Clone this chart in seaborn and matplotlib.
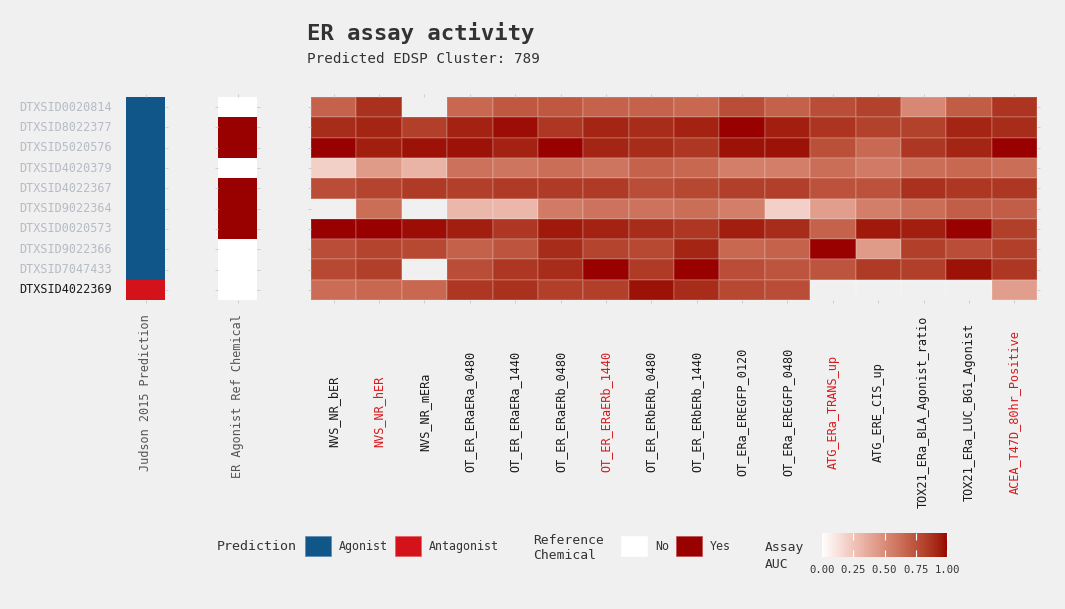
import numpy as np
import pandas as pd
import matplotlib
matplotlib.use("Agg")
import matplotlib.pyplot as plt
import seaborn as sns
from matplotlib.colors import ListedColormap
from matplotlib.patches import Patch

# ---------------- data ----------------
chemicals = ["DTXSID0020814", "DTXSID8022377", "DTXSID5020576", "DTXSID4020379",
             "DTXSID4022367", "DTXSID9022364", "DTXSID0020573", "DTXSID9022366",
             "DTXSID7047433", "DTXSID4022369"]
highlight_chemical = "DTXSID4022369"

assays = ["NVS_NR_bER", "NVS_NR_hER", "NVS_NR_mERa", "OT_ER_ERaERa_0480",
          "OT_ER_ERaERa_1440", "OT_ER_ERaERb_0480", "OT_ER_ERaERb_1440",
          "OT_ER_ERbERb_0480", "OT_ER_ERbERb_1440", "OT_ERa_EREGFP_0120",
          "OT_ERa_EREGFP_0480", "ATG_ERa_TRANS_up", "ATG_ERE_CIS_up",
          "TOX21_ERa_BLA_Agonist_ratio", "TOX21_ERa_LUC_BG1_Agonist",
          "ACEA_T47D_80hr_Positive"]
red_assays = ["NVS_NR_hER", "OT_ER_ERaERb_1440", "ATG_ERa_TRANS_up",
              "ACEA_T47D_80hr_Positive"]

prediction = ["Agonist"] * 9 + ["Antagonist"]
ref_chemical = ["No", "Yes", "Yes", "No", "Yes", "Yes", "Yes", "No", "No", "No"]

nan = np.nan
auc_0020814 = [0.68, 0.88, nan, 0.66, 0.73, 0.73, 0.68, 0.68, 0.66, 0.77, 0.69, 0.77, 0.82, 0.52, 0.71, 0.87]
auc_8022377 = [0.90, 0.92, 0.83, 0.93, 0.98, 0.86, 0.92, 0.90, 0.93, 1.00, 0.94, 0.87, 0.82, 0.82, 0.92, 0.90]
auc_5020576 = [1.00, 0.94, 0.97, 0.97, 0.93, 1.00, 0.92, 0.90, 0.86, 0.97, 0.97, 0.76, 0.65, 0.86, 0.92, 1.00]
auc_4020379 = [0.20, 0.44, 0.33, 0.62, 0.60, 0.63, 0.60, 0.68, 0.66, 0.56, 0.56, 0.63, 0.58, 0.63, 0.66, 0.63]
auc_4022367 = [0.77, 0.81, 0.85, 0.83, 0.85, 0.85, 0.85, 0.77, 0.80, 0.83, 0.83, 0.75, 0.75, 0.88, 0.86, 0.86]
auc_9022364 = [nan, 0.63, nan, 0.31, 0.31, 0.58, 0.61, 0.61, 0.63, 0.56, 0.20, 0.42, 0.56, 0.63, 0.70, 0.70]
auc_0020573 = [1.00, 1.00, 0.98, 0.94, 0.86, 0.95, 0.93, 0.90, 0.86, 0.94, 0.90, 0.68, 0.95, 0.94, 1.00, 0.83]
auc_9022366 = [0.77, 0.81, 0.79, 0.69, 0.74, 0.90, 0.81, 0.79, 0.92, 0.66, 0.68, 1.00, 0.44, 0.83, 0.77, 0.83]
auc_7047433 = [0.79, 0.83, nan, 0.77, 0.86, 0.90, 1.00, 0.85, 1.00, 0.77, 0.74, 0.74, 0.85, 0.83, 0.97, 0.86]
auc_4022369 = [0.64, 0.66, 0.66, 0.86, 0.88, 0.83, 0.83, 0.97, 0.90, 0.79, 0.77, nan, nan, nan, nan, 0.42]

auc_rows = [auc_0020814, auc_8022377, auc_5020576, auc_4020379, auc_4022367,
            auc_9022364, auc_0020573, auc_9022366, auc_7047433, auc_4022369]

# ---------------- colours ----------------
BG = "#F0F0F0"
BLUE = "#115689"
RED = "#D3121A"
DARKRED = "#990000"


def _srgb_to_lab(rgb):
    rgb = np.asarray(rgb, float)
    lin = np.where(rgb <= 0.04045, rgb / 12.92, ((rgb + 0.055) / 1.055) ** 2.4)
    M = np.array([[0.4124, 0.3576, 0.1805], [0.2126, 0.7152, 0.0722], [0.0193, 0.1192, 0.9505]])
    xyz = M @ lin / np.array([0.95047, 1.0, 1.08883])
    f = np.where(xyz > 0.008856, np.cbrt(xyz), 7.787 * xyz + 16 / 116)
    return np.array([116 * f[1] - 16, 500 * (f[0] - f[1]), 200 * (f[1] - f[2])])


def _lab_to_srgb(lab):
    L, a, b = lab
    fy = (L + 16) / 116
    fx = fy + a / 500
    fz = fy - b / 200
    f = np.array([fx, fy, fz])
    xyz = np.where(f ** 3 > 0.008856, f ** 3, (f - 16 / 116) / 7.787) * np.array([0.95047, 1.0, 1.08883])
    Minv = np.array([[3.2406, -1.5372, -0.4986], [-0.9689, 1.8758, 0.0415], [0.0557, -0.2040, 1.0570]])
    lin = Minv @ xyz
    lin = np.clip(lin, 0, 1)
    rgb = np.where(lin <= 0.0031308, 12.92 * lin, 1.055 * lin ** (1 / 2.4) - 0.055)
    return np.clip(rgb, 0, 1)


lab_lo = _srgb_to_lab(matplotlib.colors.to_rgb("white"))
lab_hi = _srgb_to_lab(matplotlib.colors.to_rgb(DARKRED))
auc_cmap = ListedColormap([_lab_to_srgb(lab_lo + t * (lab_hi - lab_lo)) for t in np.linspace(0, 1, 256)])

# ---------------- figure ----------------
plt.rcParams["font.family"] = ["DejaVu Sans Mono"]
W, H = 1065, 609
fig = plt.figure(figsize=(W / 100, H / 100), dpi=100, facecolor=BG)


def px_axes(x0, y0, x1, y1):
    return fig.add_axes([x0 / W, 1 - y1 / H, (x1 - x0) / W, (y1 - y0) / H])


ax_pred = px_axes(126, 97, 165, 300)
ax_ref = px_axes(218, 97, 257, 300)
ax_heat = px_axes(311, 97, 1037, 300)
cax = px_axes(822, 533, 947, 557)

for a in (ax_pred, ax_ref, ax_heat):
    a.set_facecolor(BG)

pred_df = pd.DataFrame({"Judson 2015 Prediction": [0 if p == "Agonist" else 1 for p in prediction]},
                       index=chemicals)
ref_df = pd.DataFrame({"ER Agonist Ref Chemical": [1 if r == "Yes" else 0 for r in ref_chemical]},
                      index=chemicals)
auc_df = pd.DataFrame(auc_rows, index=chemicals, columns=assays)

sns.heatmap(pred_df, ax=ax_pred, cmap=ListedColormap([BLUE, RED]), vmin=0, vmax=1, cbar=False,
            linewidths=0.0)
sns.heatmap(ref_df, ax=ax_ref, cmap=ListedColormap(["white", DARKRED]), vmin=0, vmax=1, cbar=False,
            linewidths=0.0)
sns.heatmap(auc_df, ax=ax_heat, cmap=auc_cmap, vmin=0, vmax=1, cbar=True, cbar_ax=cax,
            cbar_kws={"orientation": "horizontal"}, linewidths=0.3, linecolor=(1, 1, 1, 0.12))

TICKC = "#C8C8C8"
for a in (ax_pred, ax_ref, ax_heat):
    a.tick_params(axis="both", which="both", length=2.5, width=0.6, color=TICKC,
                  left=True, right=True, top=True, bottom=True)
    a.set_xlabel("")
    a.set_ylabel("")
    for s in a.spines.values():
        s.set_visible(False)

# y labels only on the prediction panel
ax_pred.set_yticks(np.arange(len(chemicals)) + 0.5)
ax_pred.set_yticklabels(chemicals, rotation=0, fontsize=8.5)
for lab in ax_pred.get_yticklabels():
    lab.set_color("#1A1A1A" if lab.get_text() == highlight_chemical else "#B6BBC4")
ax_pred.tick_params(axis="y", pad=8, left=False)
ax_ref.set_yticklabels([])
ax_heat.set_yticklabels([])

for a in (ax_pred, ax_ref):
    a.set_xticklabels(a.get_xticklabels(), rotation=90, fontsize=8.6, color="#555555")
    a.tick_params(axis="x", pad=8)

ax_heat.set_xticks(np.arange(len(assays)) + 0.5)
ax_heat.set_xticklabels(assays, rotation=90, fontsize=8.6)
for lab in ax_heat.get_xticklabels():
    lab.set_va("center")
    lab.set_color("#D7191C" if lab.get_text() in red_assays else "#1A1A1A")
ax_heat.tick_params(axis="x", pad=78)

# colourbar styling
cbar = ax_heat.collections[0].colorbar
cbar.outline.set_visible(False)
cbar.set_ticks([0, 0.25, 0.5, 0.75, 1.0])
cbar.set_ticklabels(["0.00", "0.25", "0.50", "0.75", "1.00"])
cax.tick_params(axis="x", direction="in", length=5, width=0.8, color="white",
                labelsize=7.6, labelcolor="#333333", pad=6, top=True)

# titles
fig.text(307 / W, 1 - 22 / H, "ER assay activity", fontsize=16, fontweight="bold",
         color="#333333", va="top", ha="left")
fig.text(307 / W, 1 - 52 / H, "Predicted EDSP Cluster: 789", fontsize=10.3,
         color="#333333", va="top", ha="left")

# legends
fig.text(217 / W, 1 - 546 / H, "Prediction", fontsize=9.6, color="#333333", va="center", ha="left")
fig.legend(handles=[Patch(facecolor=BLUE, edgecolor="#5A8CB0", linewidth=0.5, label="Agonist"),
                    Patch(facecolor=RED, edgecolor="#E86060", linewidth=0.5, label="Antagonist")],
           loc="center left", bbox_to_anchor=(305 / W, 1 - 546 / H), ncol=2, frameon=False,
           fontsize=8.4, handlelength=2.2, handleheight=2.3, handletextpad=0.7,
           columnspacing=0.6, borderpad=0, borderaxespad=0, labelcolor="#333333")
fig.text(533 / W, 1 - 548 / H, "Reference\nChemical", fontsize=9.4, color="#333333",
         va="center", ha="left", linespacing=1.2)
fig.legend(handles=[Patch(facecolor="white", edgecolor="white", linewidth=0.5, label="No"),
                    Patch(facecolor=DARKRED, edgecolor="#C05050", linewidth=0.5, label="Yes")],
           loc="center left", bbox_to_anchor=(621 / W, 1 - 546 / H), ncol=2, frameon=False,
           fontsize=8.4, handlelength=2.2, handleheight=2.3, handletextpad=0.7,
           columnspacing=0.6, borderpad=0, borderaxespad=0, labelcolor="#333333")
fig.text(765 / W, 1 - 556 / H, "Assay\nAUC", fontsize=9.4, color="#333333",
         va="center", ha="left", linespacing=1.3)

fig.savefig("out.png", dpi=100, facecolor=BG)
